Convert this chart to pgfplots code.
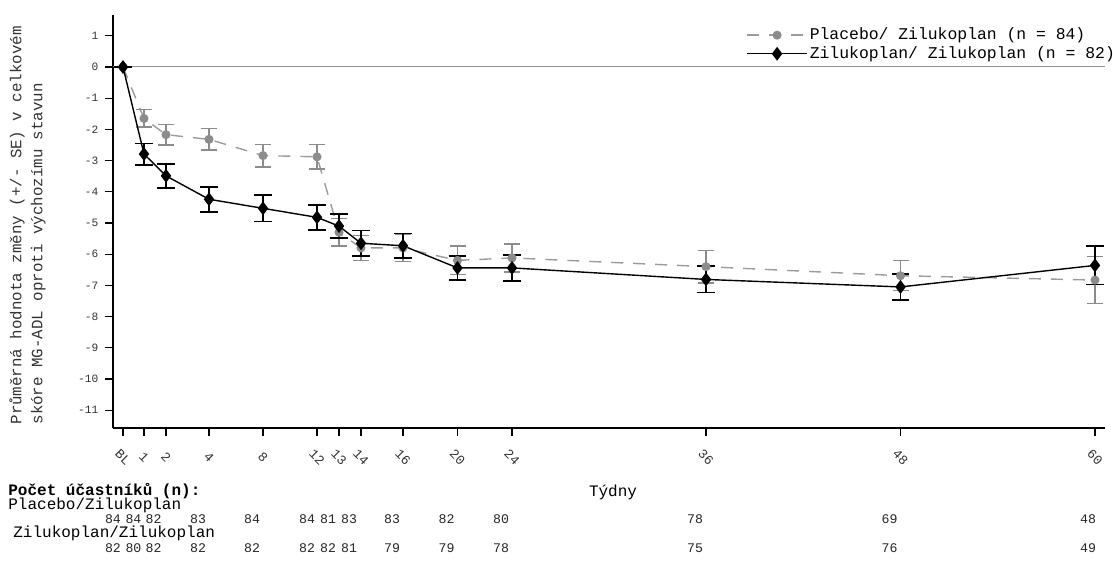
\documentclass[border=0pt]{standalone}
\usepackage{fontspec}
\setmainfont{Liberation Mono}
\usepackage{pgfplots}
\usepackage{pgfplotstable}
\pgfplotsset{compat=1.18}
\definecolor{gry}{RGB}{140,140,140}
\definecolor{gryline}{RGB}{155,155,155}
\definecolor{zline}{RGB}{150,150,150}

\pgfplotstableread{
x y e
123 0 0
144 -1.65 0.28
166 -2.17 0.33
209 -2.32 0.34
263 -2.84 0.36
317 -2.88 0.39
339 -5.30 0.44
361 -5.80 0.40
403 -5.80 0.44
457.5 -6.20 0.46
512 -6.12 0.45
706 -6.40 0.52
900.5 -6.69 0.48
1095 -6.83 0.76
}\placebo

\pgfplotstableread{
x y e
123 0 0
144 -2.79 0.34
166 -3.49 0.39
209 -4.24 0.40
263 -4.53 0.42
317 -4.82 0.40
339 -5.10 0.38
361 -5.65 0.41
403 -5.73 0.39
457.5 -6.44 0.38
512 -6.44 0.42
706 -6.81 0.42
900.5 -7.05 0.42
1095 -6.36 0.61
}\zilu

\pgfplotstableread{
x y n
113 -14.49 84
133.5 -14.49 84
153.5 -14.49 82
198 -14.49 83
252 -14.49 84
307 -14.49 84
328 -14.49 81
349 -14.49 83
392 -14.49 83
446.5 -14.49 82
501 -14.49 80
695 -14.49 78
889.5 -14.49 69
1088 -14.49 48
}\nplacebo

\pgfplotstableread{
x y n
113 -15.42 82
133.5 -15.42 80
153.5 -15.42 82
198 -15.42 82
252 -15.42 82
307 -15.42 82
328 -15.42 82
349 -15.42 81
392 -15.42 79
446.5 -15.42 79
501 -15.42 78
695 -15.42 75
889.5 -15.42 76
1088 -15.42 49
}\nzilu

\begin{document}
\begin{tikzpicture}
\begin{axis}[
  x=0.5pt, y=15.6pt,
  xmin=113, xmax=1105, ymin=-11.571, ymax=1.667,
  axis x line*=bottom, axis y line*=left,
  axis line style={-, line width=0.6pt, black},
  clip=false,
  tick align=outside,
  major tick length=3.8pt,
  tick style={black, line width=0.6pt},
  ytick={-11,-10,...,1},
  yticklabels={-11,-10,-9,-8,-7,-6,-5,-4,-3,-2,-1,0,1},
  xtick={123,144,166,209,263,317,339,361,403,457.5,512,706,900.5,1095},
  xticklabels={BL,1,2,4,8,12,13,14,16,20,24,36,48,60},
  yticklabel style={font=\fontsize{5.6}{6}\selectfont, text=black!80},
  xticklabel style={font=\fontsize{6.6}{7}\selectfont, text=black!80, inner sep=0.5pt, yshift=-10.8pt, anchor=center, rotate=-45},
  legend style={draw=none, fill=none, at={(axis cs:746,1.33)}, anchor=north west,
    inner sep=0pt, font=\fontsize{8.2}{9}\selectfont,
    nodes={inner sep=1pt, text height=5.8pt, text depth=1.5pt},
    cells={anchor=west}, row sep=0pt},
  legend cell align=left,
  legend image code/.code={\draw[mark repeat=2, mark phase=2, #1] plot coordinates {(0pt,0pt) (15pt,0pt) (30pt,0pt)};},
  every legend entry/.append style={xshift=2.5pt},
]
\addplot[zline, line width=0.5pt, forget plot] coordinates {(113,0) (1105,0)};

\addplot[gryline, line width=0.7pt, dash pattern=on 6pt off 5pt,
  mark=*, mark size=1.9pt, mark options={solid, fill=gry, draw=gry},
  error bars/.cd, y dir=both, y explicit, error mark=|,
  error bar style={gry, line width=0.7pt, solid},
  error mark options={gry, mark size=4pt, line width=0.7pt, solid}]
  table[x=x, y=y, y error=e] {\placebo};
\addlegendentry{Placebo/ Zilukoplan (n = 84)}

\addplot[black, line width=0.7pt,
  mark=diamond*, mark size=2.9pt, mark options={solid, fill=black},
  error bars/.cd, y dir=both, y explicit, error mark=|,
  error bar style={black, line width=0.9pt},
  error mark options={black, mark size=4.4pt, line width=0.9pt}]
  table[x=x, y=y, y error=e] {\zilu};
\addlegendentry{Zilukoplan/ Zilukoplan (n = 82)}

\addplot[draw=none, mark=none, forget plot, nodes near coords, point meta=explicit symbolic,
  nodes near coords style={anchor=center, inner sep=0pt, font=\fontsize{6.6}{7}\selectfont, text=black!85}]
  table[x=x, y=y, meta=n] {\nplacebo};
\addplot[draw=none, mark=none, forget plot, nodes near coords, point meta=explicit symbolic,
  nodes near coords style={anchor=center, inner sep=0pt, font=\fontsize{6.6}{7}\selectfont, text=black!85}]
  table[x=x, y=y, meta=n] {\nzilu};

\node[rotate=90, anchor=north west, align=left, inner sep=0pt, text=black!80,
  font=\fontsize{7.9}{10.5}\selectfont] at (axis cs:9,-11.47)
  {Průměrná hodnota změny (+/- SE) v celkovém\\skóre MG-ADL oproti výchozímu stavun};

\node[anchor=west, inner sep=0pt, font=\fontsize{8}{9}\selectfont\bfseries] at (axis cs:8,-13.59) {Počet účastníků (n):};
\node[anchor=center, inner sep=0pt, font=\fontsize{8}{9}\selectfont] at (axis cs:613,-13.62) {Týdny};
\node[anchor=west, inner sep=0pt, font=\fontsize{8}{9}\selectfont] at (axis cs:8,-14.04) {Placebo/Zilukoplan};
\node[anchor=west, inner sep=0pt, font=\fontsize{8}{9}\selectfont] at (axis cs:13,-14.94) {Zilukoplan/Zilukoplan};

\coordinate (pbl) at (axis cs:0,-15.897);
\coordinate (ptr) at (axis cs:1113,2.147);
\end{axis}
\pgfresetboundingbox
\path[use as bounding box] (pbl) rectangle (ptr);
\end{tikzpicture}
\end{document}
